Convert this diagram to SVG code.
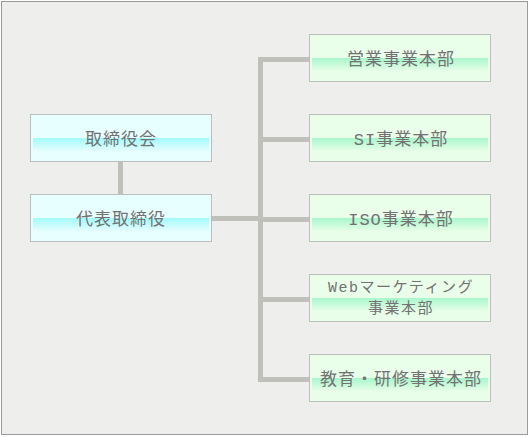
<svg xmlns="http://www.w3.org/2000/svg" width="529" height="437" viewBox="0 0 529 437">
<defs>
<linearGradient id="gc" x1="0" y1="0" x2="0" y2="1">
<stop offset="0" stop-color="#a2fafa"/>
<stop offset="0.6" stop-color="#e6fefe"/>
<stop offset="1" stop-color="#e8ffff"/>
</linearGradient>
<linearGradient id="gg" x1="0" y1="0" x2="0" y2="1">
<stop offset="0" stop-color="#a8f6cc"/>
<stop offset="0.6" stop-color="#e8fee8"/>
<stop offset="1" stop-color="#eaffea"/>
</linearGradient>
<style>
.frame{fill:#eeefec;stroke:#9a9a9a;stroke-width:1}
.bc{fill:#e8ffff;stroke:#bdbdbd;stroke-width:1}
.bg{fill:#eaffea;stroke:#bdbdbd;stroke-width:1}
.t{font-family:"Noto Sans CJK JP","Noto Sans",sans-serif;font-size:17px;fill:#727272;text-anchor:middle;letter-spacing:1px}
.s{font-size:15px;letter-spacing:1.5px}
.m{font-family:"Liberation Mono","DejaVu Sans Mono",monospace}
.c{stroke:#c0c0bb;stroke-width:5;fill:none}
</style>
</defs>
<rect class="frame" x="1.5" y="1.5" width="526" height="433"/>
<g id="connectors">
<line class="c" x1="120.5" y1="161" x2="120.5" y2="195"/>
<line class="c" x1="211" y1="218.5" x2="260.5" y2="218.5"/>
<polyline class="c" points="310,59.5 260.5,59.5 260.5,379.5 310,379.5"/>
<line class="c" x1="260.5" y1="139.5" x2="310" y2="139.5"/>
<line class="c" x1="260.5" y1="219.5" x2="310" y2="219.5"/>
<line class="c" x1="260.5" y1="299.5" x2="310" y2="299.5"/>
</g>
<g id="n1">
<rect class="bc" x="30.5" y="114.5" width="181" height="47"/>
<rect x="33" y="138" width="176" height="22" fill="url(#gc)"/>
<text class="t" x="121" y="144.5">取締役会</text>
</g>
<g id="n2">
<rect class="bc" x="30.5" y="194.5" width="181" height="47"/>
<rect x="33" y="218" width="176" height="22" fill="url(#gc)"/>
<text class="t" x="121" y="224.5">代表取締役</text>
</g>
<g id="n3">
<rect class="bg" x="309.5" y="34.5" width="181" height="47"/>
<rect x="312" y="58" width="176" height="22" fill="url(#gg)"/>
<text class="t" x="401" y="64.5">営業事業本部</text>
</g>
<g id="n4">
<rect class="bg" x="309.5" y="114.5" width="181" height="47"/>
<rect x="312" y="138" width="176" height="22" fill="url(#gg)"/>
<text class="t" x="401" y="144.5"><tspan class="m">SI</tspan>事業本部</text>
</g>
<g id="n5">
<rect class="bg" x="309.5" y="194.5" width="181" height="47"/>
<rect x="312" y="218" width="176" height="22" fill="url(#gg)"/>
<text class="t" x="401" y="224.5"><tspan class="m">ISO</tspan>事業本部</text>
</g>
<g id="n6">
<rect class="bg" x="309.5" y="274.5" width="181" height="47"/>
<rect x="312" y="298" width="176" height="22" fill="url(#gg)"/>
<text class="t s" x="401" y="292"><tspan class="m">Web</tspan>マーケティング<tspan x="401" dy="21">事業本部</tspan></text>
</g>
<g id="n7">
<rect class="bg" x="309.5" y="354.5" width="181" height="47"/>
<rect x="312" y="378" width="176" height="22" fill="url(#gg)"/>
<text class="t" x="401" y="384.5">教育・研修事業本部</text>
</g>
</svg>
